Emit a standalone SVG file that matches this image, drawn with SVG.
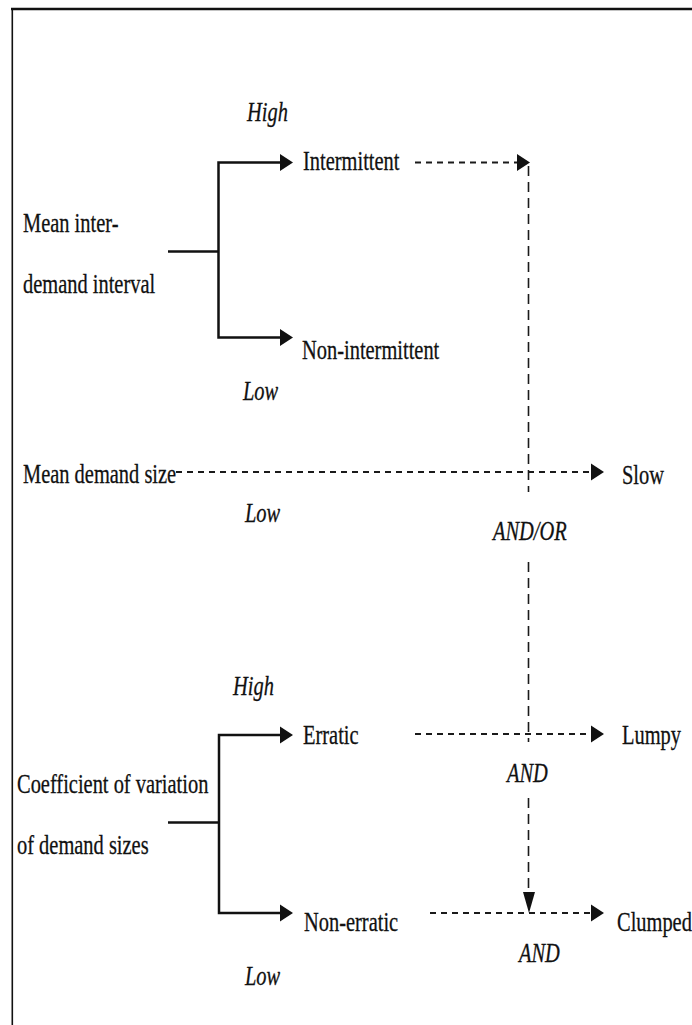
<svg xmlns="http://www.w3.org/2000/svg" width="692" height="1025" viewBox="0 0 692 1025">
  <style>
    text { font-family: "Liberation Serif", "Times New Roman", serif; font-size: 28px; fill: #111; stroke: #111; stroke-width: 0.3; }
    .it { font-style: italic; }
    .solid { stroke: #111; stroke-width: 2.5; fill: none; }
    .dash { stroke: #1a1a1a; stroke-width: 2.2; fill: none; stroke-dasharray: 6 5; }
    .vdash { stroke: #1a1a1a; stroke-width: 1.6; fill: none; stroke-dasharray: 10 6; }
    .head { fill: #111; }
    .frame { stroke: #111; fill: none; }
  </style>

  <!-- frame -->
  <line class="frame" x1="11" y1="9" x2="692" y2="9" stroke-width="2.5"/>
  <line class="frame" x1="12.3" y1="8" x2="12.3" y2="1025" stroke-width="1.6"/>

  <!-- nodes -->
  <g id="mean-interval">
    <text transform="translate(23,232) scale(0.73,1)">Mean inter-</text>
    <text transform="translate(23,293) scale(0.73,1)">demand interval</text>
  </g>
  <g id="intermittent">
    <text transform="translate(303,170) scale(0.73,1)">Intermittent</text>
  </g>
  <g id="non-intermittent">
    <text transform="translate(302,359) scale(0.73,1)">Non-intermittent</text>
  </g>
  <g id="mean-size">
    <text transform="translate(23,483) scale(0.73,1)">Mean demand size</text>
  </g>
  <g id="slow">
    <text transform="translate(622,484) scale(0.73,1)">Slow</text>
  </g>
  <g id="cv">
    <text transform="translate(17,793) scale(0.73,1)">Coefficient of variation</text>
    <text transform="translate(17,854) scale(0.73,1)">of demand sizes</text>
  </g>
  <g id="erratic">
    <text transform="translate(303,744) scale(0.73,1)">Erratic</text>
  </g>
  <g id="lumpy">
    <text transform="translate(622,744) scale(0.73,1)">Lumpy</text>
  </g>
  <g id="non-erratic">
    <text transform="translate(304,931) scale(0.73,1)">Non-erratic</text>
  </g>
  <g id="clumped">
    <text transform="translate(617,931) scale(0.73,1)">Clumped</text>
  </g>

  <!-- connectors -->
  <g id="connectors">
    <!-- interval split -->
    <polyline class="solid" points="168,251.5 218.5,251.5"/>
    <polyline class="solid" points="280,162.5 218.5,162.5 218.5,337.5 280,337.5"/>
    <polygon class="head" points="293,162.5 280,154 280,171"/>
    <polygon class="head" points="293,337.5 280,329 280,346"/>

    <!-- cv split -->
    <polyline class="solid" points="168,822.5 219,822.5"/>
    <polyline class="solid" points="280,735 219,735 219,913 280,913"/>
    <polygon class="head" points="293,735 280,726.5 280,743.5"/>
    <polygon class="head" points="293,913 280,904.5 280,921.5"/>

    <!-- dashed flows -->
    <line class="dash" x1="415" y1="162.5" x2="518" y2="162.5"/>
    <polygon class="head" points="530,162.5 517,154 517,171"/>

    <line class="dash" x1="176" y1="472" x2="591" y2="472"/>
    <polygon class="head" points="604,472 591,463.5 591,480.5"/>

    <line class="dash" x1="415" y1="734" x2="591" y2="734"/>
    <polygon class="head" points="604,734 591,725.5 591,742.5"/>

    <line class="dash" x1="430" y1="913" x2="591" y2="913"/>
    <polygon class="head" points="604,913 591,904.5 591,921.5"/>

    <!-- vertical combining line -->
    <line class="vdash" x1="528.5" y1="166" x2="528.5" y2="492"/>
    <line class="vdash" x1="528.5" y1="562" x2="528.5" y2="742"/>
    <line class="vdash" x1="528.5" y1="798" x2="528.5" y2="892"/>
    <polygon class="head" points="529,913 523,892 535,892"/>
  </g>

  <!-- branch and logic labels -->
  <g id="labels">
    <text class="it" transform="translate(247,121) scale(0.73,1)">High</text>
    <text class="it" transform="translate(243,400) scale(0.73,1)">Low</text>
    <text class="it" transform="translate(245,522) scale(0.73,1)">Low</text>
    <text class="it" transform="translate(493,540) scale(0.73,1)">AND/OR</text>
    <text class="it" transform="translate(233,695) scale(0.73,1)">High</text>
    <text class="it" transform="translate(507,782) scale(0.73,1)">AND</text>
    <text class="it" transform="translate(519,962) scale(0.73,1)">AND</text>
    <text class="it" transform="translate(245,985) scale(0.73,1)">Low</text>
  </g>
</svg>
